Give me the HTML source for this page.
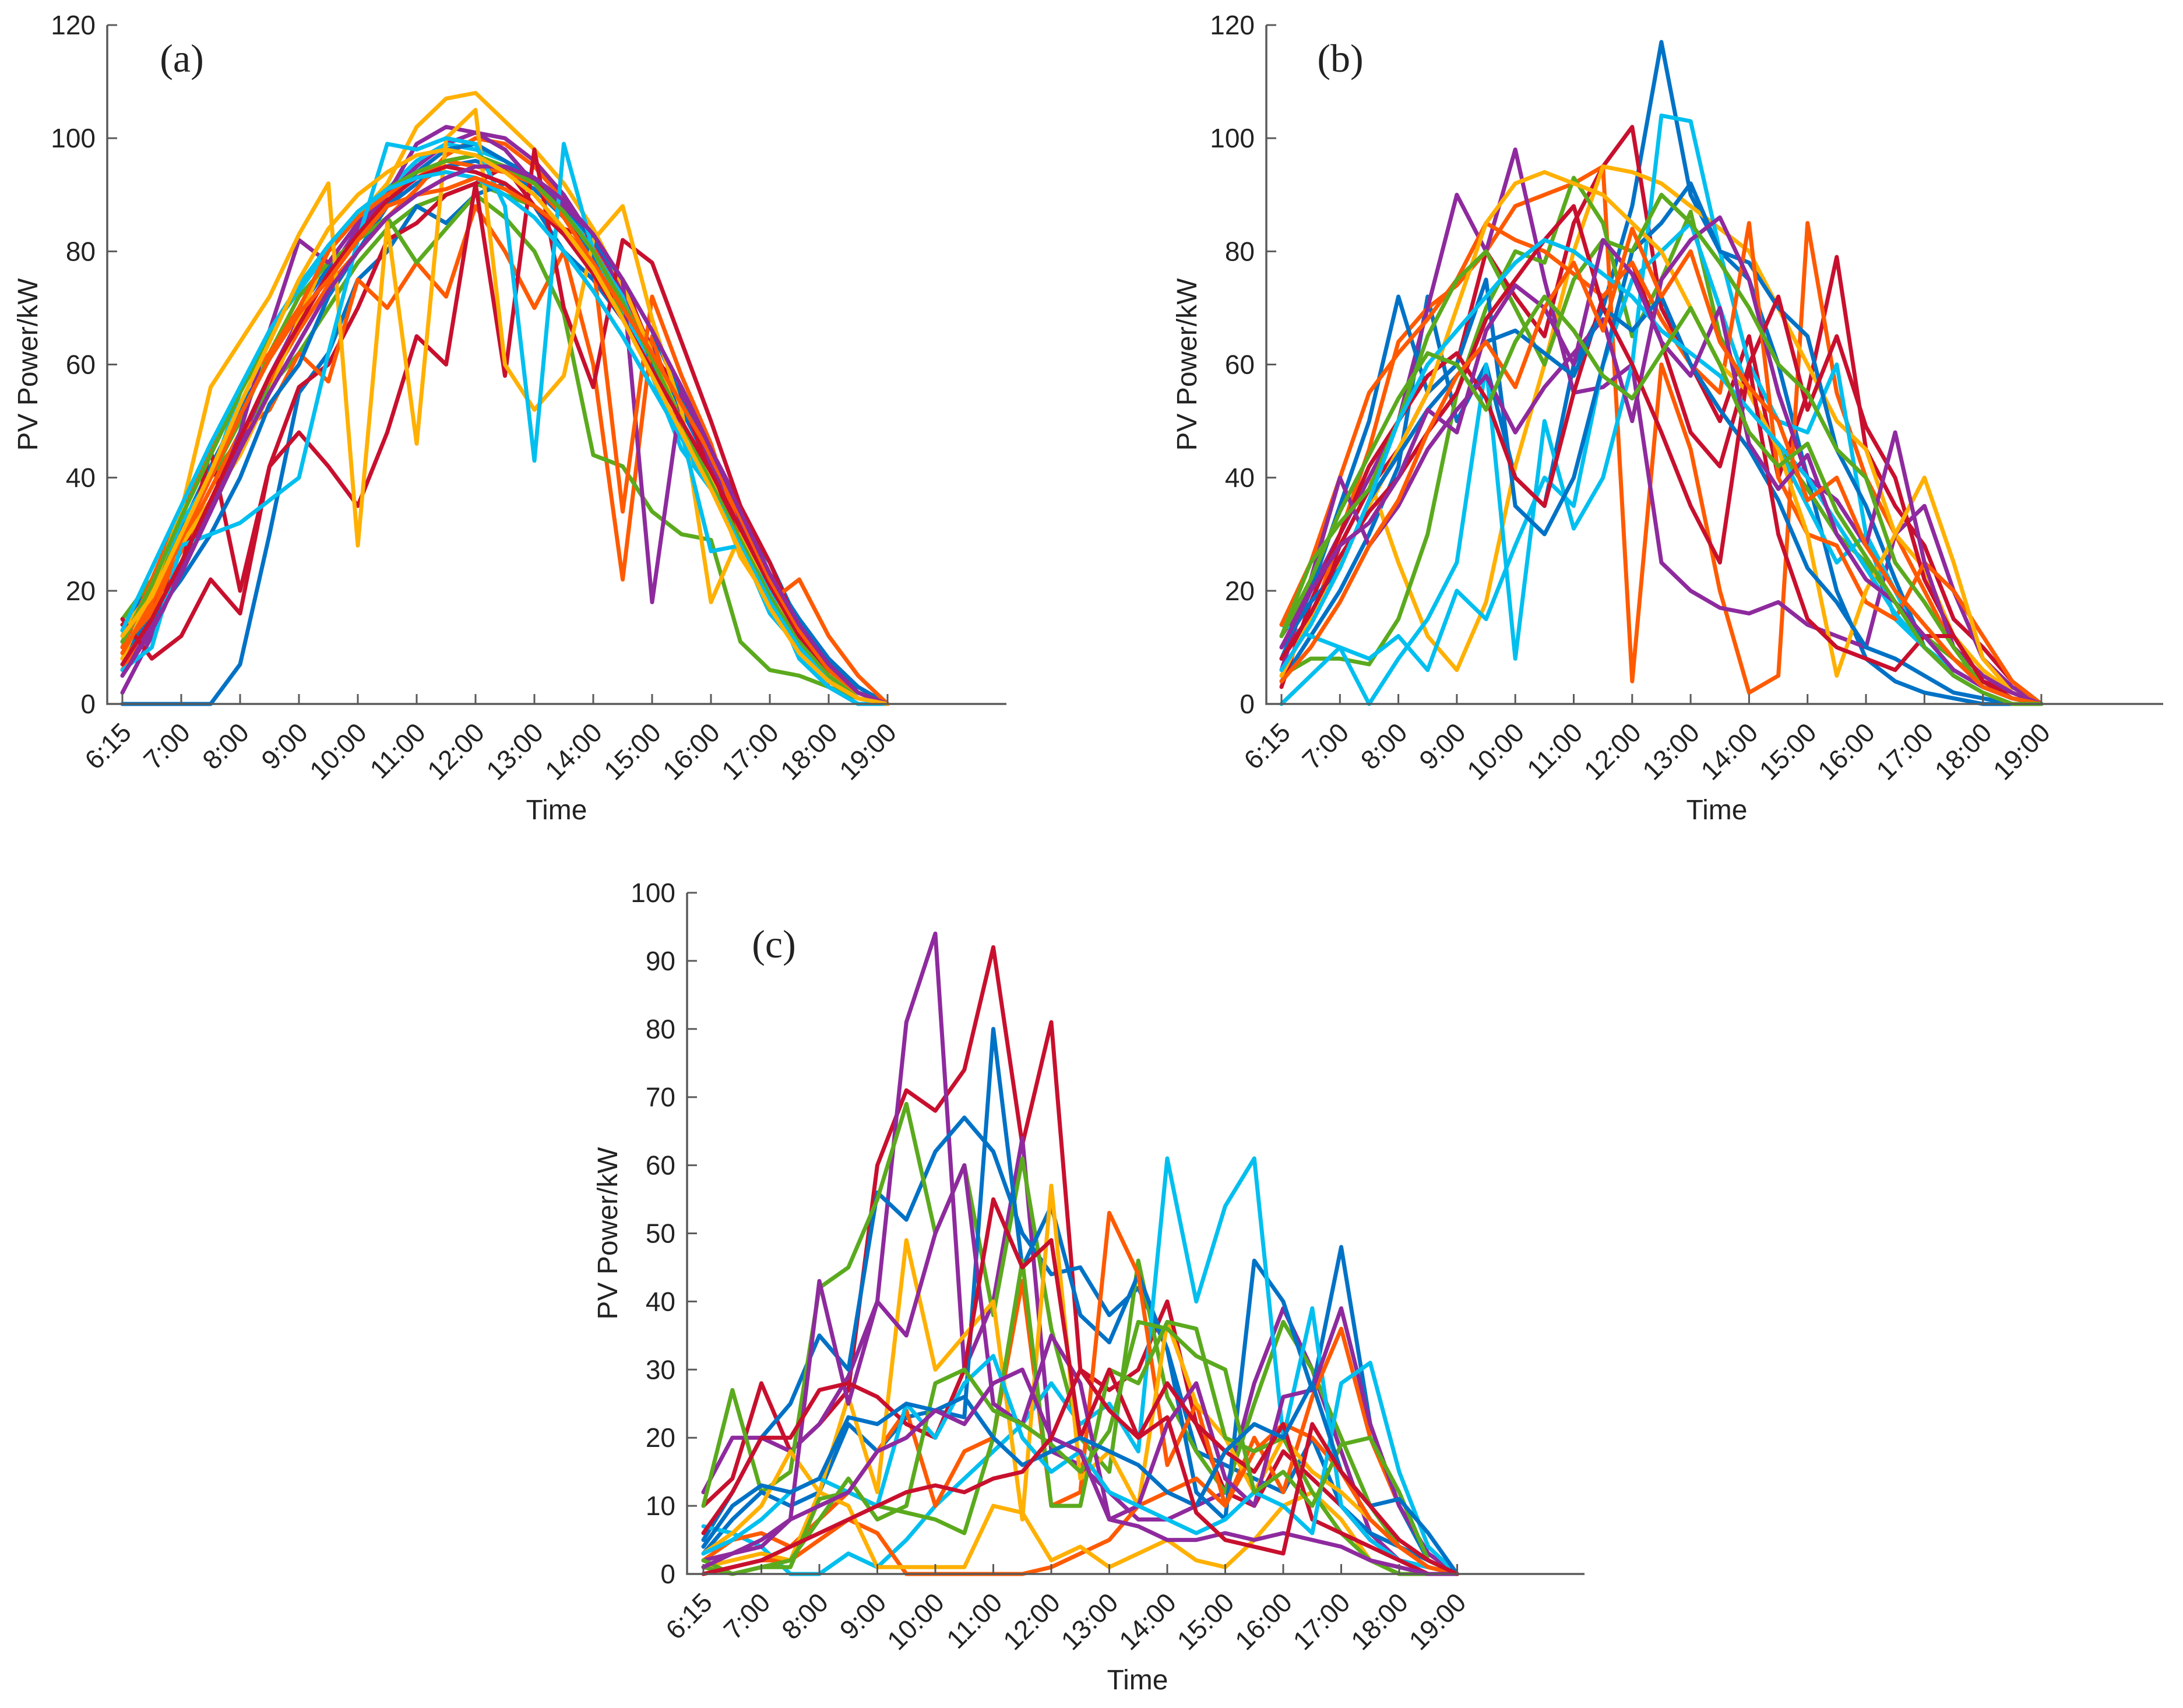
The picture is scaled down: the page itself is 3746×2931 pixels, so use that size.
<!DOCTYPE html>
<html><head><meta charset="utf-8"><style>
html,body{margin:0;padding:0;background:#fff;}
svg{display:block;}
text{font-family:"Liberation Sans",sans-serif;fill:#222;}
</style></head><body>
<svg id="fig" width="3746" height="2931" viewBox="0 0 3746 2931" xmlns="http://www.w3.org/2000/svg"></svg>
<script>
const timeLabels = ["6:15","7:00","8:00","9:00","10:00","11:00","12:00","13:00","14:00","15:00","16:00","17:00","18:00","19:00"];
const sampleIdx = [0,2,4,6,8,10,12,14,16,18,20,22,24,26,28,30,32,34,36,38,40,42,44,46,48,50,52];
const yTicksA = [0,20,40,60,80,100,120];
const yTicksB = [0,20,40,60,80,100,120];
const yTicksC = [0,10,20,30,40,50,60,70,80,90,100];
const palette = {blue:"#0072C6",red:"#C8102E",orange:"#FF5A00",yellow:"#FFB000",purple:"#8E2A9E",green:"#5BAA1E",cyan:"#00BFEF"};

const colorsA = ["blue","orange","green","purple","blue","red","cyan","orange","yellow","blue","green","purple","red","orange","yellow","cyan","green","red","cyan","orange","purple","yellow"];
const seriesA = [
[12,22,31,42,52,61,70,77,83,88,92,95,96,94,91,86,79,71,62,52,42,31,21,13,6,2,0],
[8,17,27,36,47,57,66,74,80,86,91,97,100,99,95,89,81,72,63,53,43,33,22,14,7,2,0],
[15,22,30,40,47,56,62,70,78,84,88,90,92,90,88,83,77,69,60,50,40,30,19,11,5,1,0],
[5,14,24,35,46,58,68,76,84,90,95,99,101,100,96,90,82,73,63,53,42,32,22,13,6,2,0],
[0,0,0,0,7,30,55,62,75,80,88,85,90,92,88,80,75,68,60,52,45,33,25,14,7,3,0],
[14,18,24,45,20,42,56,60,70,82,85,90,92,95,88,84,82,75,62,55,40,30,20,12,6,2,0],
[10,20,32,40,55,66,73,80,86,91,96,99,98,96,92,88,80,70,58,45,38,28,16,10,5,1,0],
[6,16,28,38,48,52,62,57,75,70,78,72,88,80,70,80,60,22,65,48,38,28,18,10,4,1,0],
[13,20,28,36,44,55,68,80,86,92,102,107,108,103,98,92,84,74,62,50,40,26,18,12,5,2,0],
[9,15,22,30,40,53,60,72,80,88,94,98,99,96,93,88,82,75,66,54,44,34,23,15,8,3,0],
[11,20,30,40,50,62,72,78,82,86,78,84,90,86,80,69,44,42,34,30,29,11,6,5,3,1,0],
[2,12,24,34,48,66,82,78,85,90,99,102,101,98,92,88,83,75,18,55,45,35,22,12,3,0,0],
[15,8,12,22,16,42,48,42,35,48,65,60,92,58,98,70,56,82,78,64,50,35,25,13,7,2,0],
[10,22,34,45,56,62,70,80,86,90,93,96,95,94,92,86,78,34,72,58,46,30,18,22,12,5,0],
[8,20,34,56,64,72,83,92,28,85,46,100,105,60,52,58,82,88,68,52,18,30,20,12,5,2,0],
[6,10,28,30,32,36,40,62,82,99,98,100,99,88,43,99,80,72,58,48,27,28,20,8,3,0,0],
[11,21,33,44,55,65,74,81,87,91,94,96,97,95,92,87,80,71,61,50,39,29,19,11,5,1,0],
[7,15,25,36,47,58,67,76,83,89,93,95,94,92,88,83,76,68,59,50,41,31,21,12,6,2,0],
[13,24,35,46,56,66,74,81,87,91,93,94,93,90,86,80,73,65,56,47,38,28,18,10,4,1,0],
[9,18,29,40,51,61,69,75,82,88,90,91,93,91,88,84,78,70,62,53,44,33,22,13,6,2,0],
[5,13,23,34,45,55,64,73,80,86,90,93,95,95,93,89,83,75,66,56,45,34,23,14,7,2,0],
[12,19,30,41,53,64,75,84,90,94,97,98,97,94,90,84,77,68,58,48,38,27,17,9,4,1,0]
];
const colorsB = ["blue","red","orange","yellow","purple","green","cyan","cyan","blue","red","orange","yellow","purple","green","blue","red","cyan","purple","orange","green"];
const seriesB = [
[4,12,20,30,42,72,50,60,40,35,60,70,88,117,90,80,75,60,40,20,8,4,2,1,0,0,0],
[8,15,28,38,45,55,60,80,72,65,85,95,102,70,60,50,65,40,55,79,45,35,28,15,10,4,0],
[6,14,30,45,64,70,74,80,88,90,92,95,4,60,45,20,2,5,85,55,40,30,20,10,5,2,0],
[10,20,30,40,25,12,6,18,42,60,80,95,94,92,88,84,80,70,60,50,45,30,24,12,6,2,0],
[12,20,30,40,50,70,90,80,98,75,55,56,60,25,20,17,16,18,14,12,10,30,35,20,8,3,0],
[5,8,8,7,15,30,55,70,80,78,93,85,65,75,87,65,55,45,38,30,25,18,12,8,4,1,0],
[0,5,10,0,8,15,25,60,8,50,31,40,60,104,103,80,60,50,48,60,30,20,10,6,3,1,0],
[14,12,10,8,12,6,20,15,28,40,35,60,75,80,85,70,55,45,35,25,30,15,10,5,2,0,0],
[8,20,35,50,72,55,60,75,35,30,40,60,80,85,92,80,78,70,65,45,35,22,10,6,3,1,0],
[3,18,30,42,50,58,62,54,40,35,55,72,78,64,48,42,60,72,52,65,49,40,22,12,4,2,0],
[14,25,40,55,62,68,75,85,82,80,76,72,78,68,60,55,85,40,30,28,18,15,25,20,12,4,0],
[5,15,25,35,45,55,70,85,92,94,92,90,85,80,70,60,55,45,30,5,20,30,40,25,8,2,0],
[6,22,40,28,35,45,52,58,48,56,62,68,50,75,82,86,75,55,40,36,28,48,25,10,5,2,0],
[12,25,32,38,50,65,75,80,70,60,75,82,80,90,85,78,70,60,55,45,40,25,18,10,3,1,0],
[10,18,24,36,44,52,58,64,66,62,58,70,66,72,60,52,45,36,24,18,10,8,5,2,1,0,0],
[8,16,26,34,40,48,55,68,75,82,88,70,60,48,35,25,60,30,15,10,8,6,12,12,4,1,0],
[6,14,24,36,50,60,66,72,78,82,80,76,72,66,62,58,52,46,40,32,24,16,10,6,3,1,0],
[10,20,28,32,40,52,48,66,74,70,60,82,76,64,58,70,46,38,44,30,22,18,12,6,3,1,0],
[4,10,18,28,36,48,58,64,56,70,78,66,84,72,80,64,56,50,36,40,28,20,14,8,3,1,0],
[12,22,34,44,54,62,60,52,64,72,66,58,54,62,70,60,48,42,46,34,26,18,10,5,2,0,0]
];
const colorsC = ["red","purple","blue","green","blue","cyan","orange","yellow","orange","yellow","green","purple","red","cyan","green","blue","purple","red"];
const seriesC = [
[10,14,28,18,22,27,60,71,68,74,92,63,81,30,27,30,40,22,12,10,18,14,10,5,2,1,0],
[12,20,20,18,22,29,40,81,94,30,40,64,18,16,12,8,8,10,12,28,39,30,18,6,2,1,0],
[5,12,20,25,35,30,56,52,62,67,62,50,44,45,38,42,33,18,16,14,12,20,10,6,4,2,0],
[10,27,12,15,42,45,55,69,50,60,38,61,36,20,15,46,26,18,12,25,37,30,20,10,4,1,0],
[3,8,12,10,12,22,18,23,24,23,80,45,54,38,34,44,33,12,8,46,40,27,48,22,10,2,0],
[7,6,4,0,0,3,1,5,10,14,18,22,28,22,25,18,61,40,54,61,20,39,10,5,2,1,0],
[2,5,6,4,8,12,18,24,10,18,20,43,10,12,53,44,16,25,10,20,12,26,36,20,10,3,0],
[3,6,10,18,12,26,12,49,30,35,40,8,57,14,18,10,37,25,20,12,20,15,12,8,4,1,0],
[0,1,2,2,5,8,6,0,0,0,0,0,1,3,5,10,12,14,10,18,22,20,15,8,4,1,0],
[1,2,3,2,12,10,1,1,1,1,10,9,2,4,1,3,5,2,1,5,10,12,8,2,0,0,0],
[1,0,1,1,11,12,10,9,8,6,20,46,10,10,30,28,37,36,20,18,20,12,6,2,0,0,0],
[2,3,5,8,43,25,40,35,50,60,25,22,35,28,8,10,22,28,14,10,26,27,39,22,10,3,0],
[6,12,20,20,27,28,26,22,20,30,55,45,49,20,30,20,28,22,18,15,22,8,6,4,2,0,0],
[3,5,8,12,14,12,10,25,20,28,32,20,15,18,12,10,8,6,8,12,10,6,28,31,15,4,0],
[2,0,1,2,8,14,8,10,28,30,24,22,19,15,21,37,36,32,30,12,15,10,19,20,12,2,0],
[4,10,13,12,14,23,22,25,24,26,20,16,18,20,18,16,12,10,18,22,20,28,15,10,11,6,0],
[1,3,4,8,10,12,18,20,24,22,28,30,20,18,8,7,5,5,6,5,6,5,4,2,1,0,0],
[0,1,2,4,6,8,10,12,13,12,14,15,20,30,24,20,23,9,5,4,3,22,15,10,5,2,0]
];

const NS = "http://www.w3.org/2000/svg";
const svg = document.getElementById("fig");
function mk(tag, attrs, parent){
  const e = document.createElementNS(NS, tag);
  for (const k in attrs) e.setAttribute(k, attrs[k]);
  (parent||svg).appendChild(e);
  return e;
}

function drawPanel(cfg){
  const g = mk("g", {});
  
  
  const yMax = cfg.yTicks[cfg.yTicks.length-1];
  const xs = i => cfg.x0 + i/4*cfg.dx;
  const ys = v => cfg.y0 - v/yMax*(cfg.y0-cfg.yTop);
  const sg = mk("g", {fill:"none","stroke-width":7,"stroke-linejoin":"round","stroke-linecap":"round"}, g);
  cfg.series.forEach((s, k) => {
    const d = s.map((v,j)=>(j?"L":"M")+xs(sampleIdx[j]).toFixed(1)+" "+ys(v).toFixed(1)).join("");
    const p = mk("path", {d:d, stroke:palette[cfg.colors[k]]}, sg);
    
    
  });
  const ax = mk("path", {d:"M"+cfg.axX+" "+cfg.yTop+"V"+cfg.y0+"H"+cfg.xEnd, stroke:"#5a5a5a", "stroke-width":3.5, fill:"none"}, g);
  
  
  cfg.yTicks.forEach(v => {
    const y = ys(v);
    mk("line", {x1:cfg.axX, x2:cfg.axX+17, y1:y, y2:y, stroke:"#5a5a5a","stroke-width":3}, g);
    const t = mk("text", {x:cfg.axX-20, y:y+16, "text-anchor":"end", "font-size":46}, g);
    t.textContent = v;
    
    
  });
  timeLabels.forEach((lab, i) => {
    const x = xs(i*4);
    mk("line", {x1:x, x2:x, y1:cfg.y0, y2:cfg.y0-17, stroke:"#5a5a5a","stroke-width":3}, g);
    const tx = x+18, ty = cfg.y0+52;
    const t = mk("text", {x:tx, y:ty, "text-anchor":"end", "font-size":46, transform:"rotate(-45 "+tx+" "+ty+")"}, g);
    t.textContent = lab;
    
    
  });
  const xt = mk("text", {x:cfg.timeX, y:cfg.y0+198, "text-anchor":"middle", "font-size":48}, g);
  xt.textContent = "Time";
  
  
  const ytx = cfg.axX-120, yty = (cfg.y0+cfg.yTop)/2;
  const yt = mk("text", {x:ytx, y:yty, "text-anchor":"middle", "font-size":48, transform:"rotate(-90 "+ytx+" "+yty+")"}, g);
  yt.textContent = "PV Power/kW";
  
  
  const pl = mk("text", {x:cfg.labX, y:cfg.labY, "text-anchor":"middle", "font-size":68, style:"font-family:'Liberation Serif',serif"}, g);
  pl.textContent = "(" + cfg.id + ")";
  
  
}

drawPanel({id:"a", series:seriesA, colors:colorsA, yTicks:yTicksA, axX:184, x0:210, dx:101, y0:1208, yTop:43, xEnd:1727, timeX:955, labX:312, labY:123});
drawPanel({id:"b", series:seriesB, colors:colorsB, yTicks:yTicksB, axX:2173, x0:2199, dx:100.3, y0:1208, yTop:43, xEnd:3712, timeX:2946, labX:2300, labY:123});
drawPanel({id:"c", series:seriesC, colors:colorsC, yTicks:yTicksC, axX:1179, x0:1207, dx:99.5, y0:2701, yTop:1532, xEnd:2719, timeX:1952, labX:1328, labY:1643});
</script>
</body></html>
